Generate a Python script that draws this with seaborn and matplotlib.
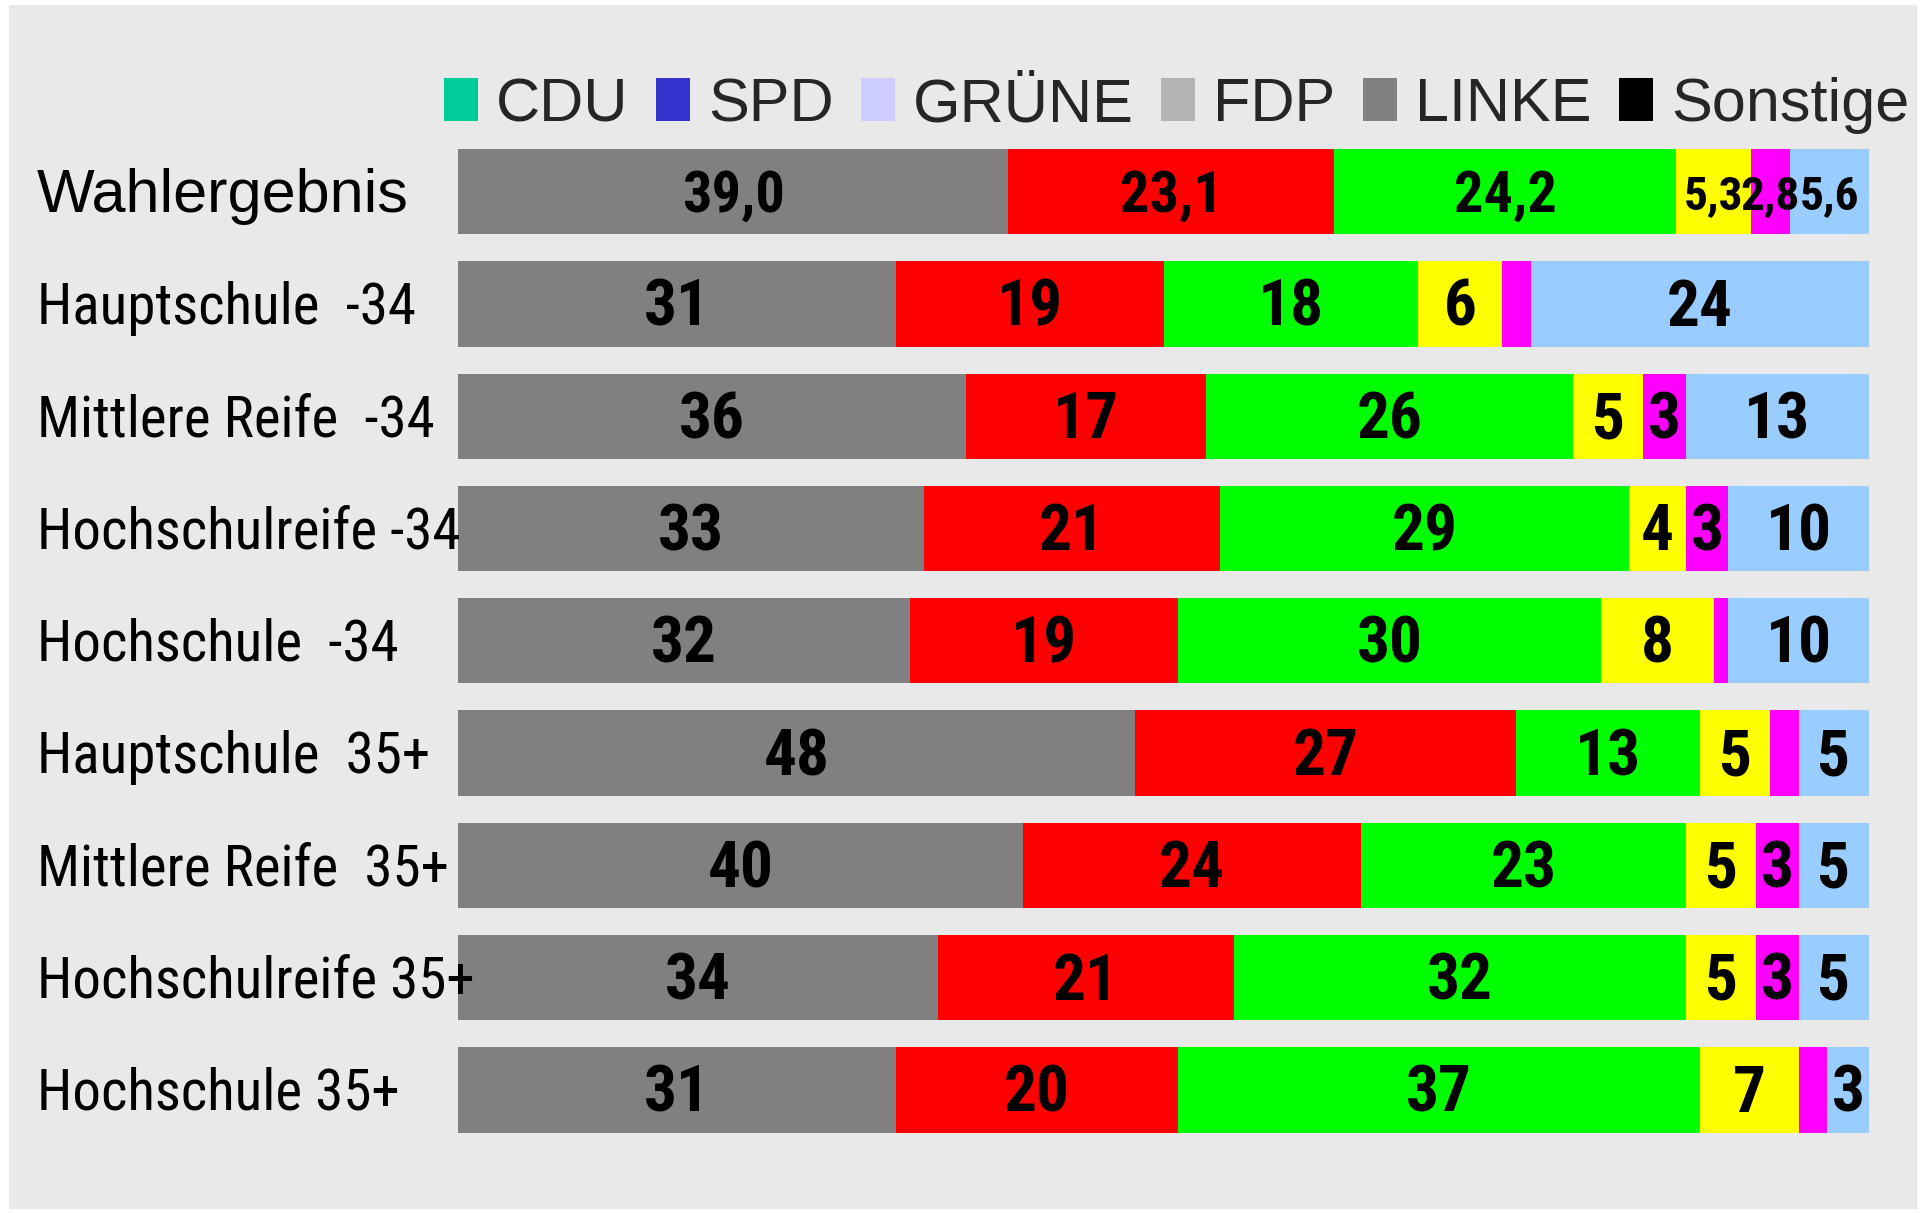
import matplotlib
matplotlib.use("Agg")
import matplotlib.pyplot as plt
import matplotlib.transforms as mtransforms
from matplotlib.patches import Patch, Rectangle
import numpy as np
import pandas as pd
import seaborn as sns

# --- data ---------------------------------------------------------------
categories = [
    "Wahlergebnis",
    "Hauptschule  -34",
    "Mittlere Reife  -34",
    "Hochschulreife -34",
    "Hochschule  -34",
    "Hauptschule  35+",
    "Mittlere Reife  35+",
    "Hochschulreife 35+",
    "Hochschule 35+",
]
grau = [39.0, 31, 36, 33, 32, 48, 40, 34, 31]
rot = [23.1, 19, 17, 21, 19, 27, 24, 21, 20]
gruen = [24.2, 18, 26, 29, 30, 13, 23, 32, 37]
gelb = [5.3, 6, 5, 4, 8, 5, 5, 5, 7]
lila = [2.8, 2, 3, 3, 1, 2, 3, 3, 2]
hellblau = [5.6, 24, 13, 10, 10, 5, 5, 5, 3]

series = [grau, rot, gruen, gelb, lila, hellblau]
bar_colors = ["#808080", "#ff0000", "#00ff00", "#ffff00", "#ff00ff", "#99ccff"]

legend_labels = ["CDU", "SPD", "GRÜNE", "FDP", "LINKE", "Sonstige"]
legend_colors = ["#00cc99", "#3333cc", "#ccccff", "#b3b3b3", "#808080", "#000000"]

# --- fonts --------------------------------------------------------------
narrow = ["Roboto Condensed", "DejaVu Sans"]
regular = ["Liberation Sans", "DejaVu Sans"]

sns.set_theme(style="white")
plt.rcParams["font.family"] = regular

df = pd.DataFrame({"kategorie": categories})
cum = np.zeros(len(categories))
cums = []
for s in series:
    cum = cum + np.array(s, dtype=float)
    cums.append(cum.copy())

fig = plt.figure(figsize=(19.27, 12.13), dpi=100, facecolor="white")
fig.patches.append(Rectangle((0.0045, 0.003), 0.9905, 0.993, transform=fig.transFigure,
                             facecolor="#e9e9e9", edgecolor="none", zorder=-10))
ax = fig.add_axes([0.2377, 0.0552, 0.7323, 0.8331])
ax.set_facecolor("none")

# stacked bars: draw cumulative totals back to front
for i in range(len(series) - 1, -1, -1):
    df["wert"] = cums[i]
    sns.barplot(data=df, x="wert", y="kategorie", orient="h", color=bar_colors[i],
                saturation=1, width=0.76, errorbar=None, ax=ax, linewidth=0)

# value labels
for i, s in enumerate(series):
    for r, v in enumerate(s):
        if v < 2.5:
            continue
        if r == 0:
            # Wahlergebnis: one decimal, small segments get a smaller font
            ax.text(cums[i][r] - v / 2, r + 0.04, f"{v:.1f}".replace(".", ","),
                    ha="center", va="center", fontsize=42 if v >= 10 else 34,
                    fontweight="bold", family=narrow, color="black")
        else:
            ax.text(cums[i][r] - v / 2, r + 0.04, f"{int(round(v))}",
                    ha="center", va="center", fontsize=47, fontweight="bold",
                    family=narrow, color="black")

# category labels
trans = mtransforms.blended_transform_factory(fig.transFigure, ax.transData)
for r, c in enumerate(categories):
    ax.text(0.019, r + 0.04, c, transform=trans, ha="left", va="center",
            fontsize=44 if r == 0 else 41, zorder=10,
            family=regular if r == 0 else narrow, color="black")

ax.set_xlim(0, 100)
ax.set_ylim(8.5, -0.5)
ax.set_xlabel("")
ax.set_ylabel("")
ax.set_xticks([])
ax.set_yticks([])
for sp in ax.spines.values():
    sp.set_visible(False)

handles = [Patch(facecolor=c, edgecolor="none") for c in legend_colors]
fig.legend(handles, legend_labels, loc="center right", bbox_to_anchor=(1.0035, 0.913),
           ncol=6, frameon=False, fontsize=44, handlelength=0.55, handleheight=0.7,
           handletextpad=0.3, columnspacing=0.45, borderaxespad=0)

fig.savefig("out.png", dpi=100, facecolor="white")
